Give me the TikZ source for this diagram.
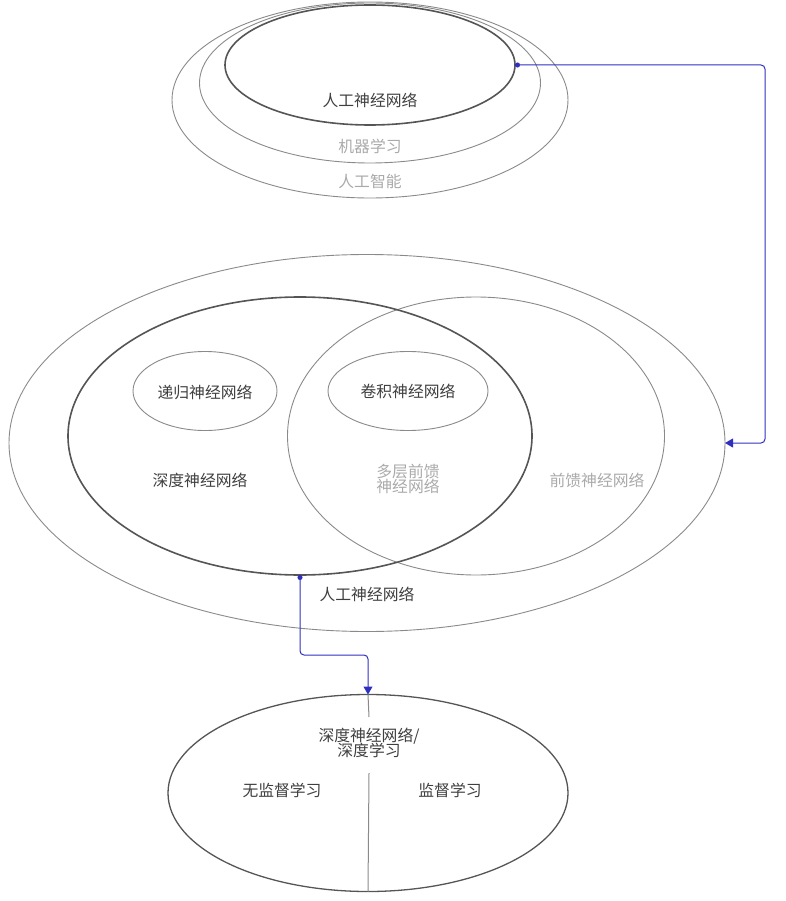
\documentclass[tikz,border=0pt]{standalone}
\usepackage{fontspec}
\setmainfont{Noto Sans CJK SC}
\usetikzlibrary{shapes.geometric,arrows.meta}
\definecolor{ink}{HTML}{3F3F3F}
\definecolor{faint}{HTML}{AAAAAA}
\definecolor{rim}{HTML}{8A8A8A}
\definecolor{rimdark}{HTML}{555555}
\definecolor{link}{HTML}{3030C0}
\tikzset{
  set/.style={ellipse, draw=rim, line width=0.9pt, inner sep=0pt, outer sep=0pt},
  setmain/.style={set, draw=rimdark, line width=1.6pt},
  lbl/.style={font=\fontsize{15.8}{18}\selectfont, text=ink, inner sep=1pt, align=center},
  lblfaint/.style={lbl, text=faint},
  flow/.style={draw=link, line width=1pt, rounded corners=4pt,
    {Circle[length=5pt]}-{Triangle[length=8pt,width=9pt]}},
}
\begin{document}
\begin{tikzpicture}[x=1pt,y=-1pt]
\useasboundingbox (0,0) rectangle (785,901);

% upper nesting: AI > ML > ANN
\node[set, minimum width=396pt, minimum height=196pt] (ai) at (370,100) {};
\node[set, minimum width=341pt, minimum height=160pt] (ml) at (370,83) {};
\node[setmain, minimum width=290pt, minimum height=120pt] (annTop) at (370,65) {};
\node[lbl] (tAnnTop) at (370,100) {人工神经网络};
\node[lblfaint] (tMl) at (370,146) {机器学习};
\node[lblfaint] (tAi) at (370,181) {人工智能};

% neural network families
\node[set, minimum width=716pt, minimum height=377pt] (ann) at (367,443) {};
\node[set, minimum width=377pt, minimum height=278pt] (ffn) at (476,436) {};
\node[setmain, minimum width=464pt, minimum height=278pt] (dnn) at (300,436) {};
\node[set, minimum width=144pt, minimum height=79pt] (rnn) at (205,391) {};
\node[set, minimum width=160pt, minimum height=79pt] (cnn) at (408,391) {};
\node[lbl] (tRnn) at (205,392) {递归神经网络};
\node[lbl] (tCnn) at (408,391) {卷积神经网络};
\node[lbl] (tDnn) at (200,480) {深度神经网络};
\node[lblfaint] (tMlp) at (408,479) {多层前馈\\[-3pt]神经网络};
\node[lblfaint] (tFfn) at (597,480) {前馈神经网络};
\node[lbl] (tAnn) at (367,594) {人工神经网络};

% deep learning split
\node[set, draw=rimdark, line width=1.3pt, minimum width=400pt, minimum height=197pt] (dl) at (368,793) {};
\node[lbl] (tDl) at (369,743) {深度神经网络/\\[-3pt]深度学习};
\node[lbl] (tUnsup) at (282,790) {无监督学习};
\node[lbl] (tSup) at (450,790) {监督学习};
\coordinate (splitA) at (369,717);
\coordinate (splitB) at (369,773);
\draw[draw=rim, line width=1pt] (dl.north) -- (splitA);
\draw[draw=rim, line width=1pt] (splitB) -- (dl.south);

% connectors
\coordinate (rail) at (765,0);
\draw[flow] (annTop.east) -- (annTop.east -| rail) |- (ann.east);
\draw[flow] (dnn.south) -- ++(0,80) -| (dl.north);
\end{tikzpicture}
\end{document}
